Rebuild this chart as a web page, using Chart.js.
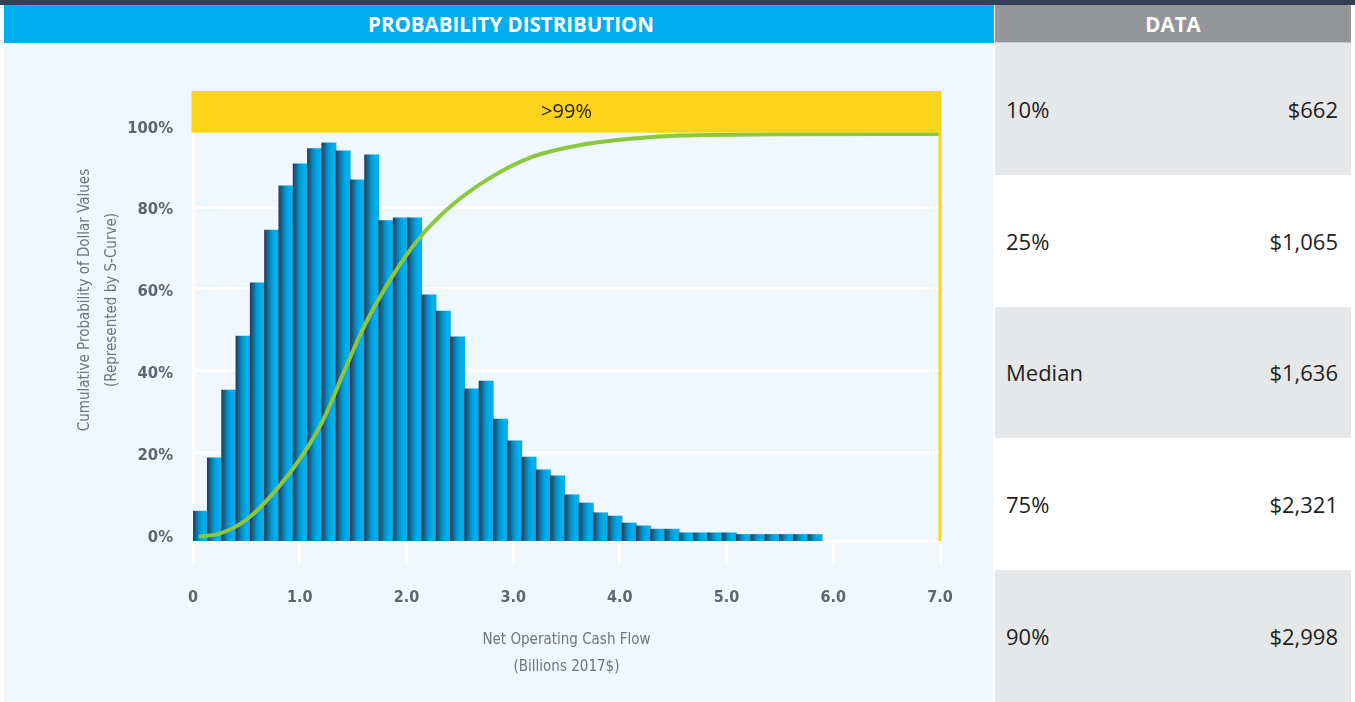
<!DOCTYPE html>
<html>
<head>
<meta charset="utf-8">
<script src="https://cdn.jsdelivr.net/npm/chart.js@4.4.0/dist/chart.umd.min.js"></script>
<style>
  body { margin: 0; width: 1355px; height: 702px; background: #fff; position: relative; overflow: hidden; font-family: 'Open Sans', sans-serif; }
  #topbar { position: absolute; left: 0; top: 0; width: 1355px; height: 5px; background: #323f55; }
  #leftHead { position: absolute; left: 4px; top: 5px; width: 990px; height: 38px; background: #00adef; color: #fff;
    font-weight: bold; font-size: 20.5px; line-height: 38px; text-align: center; padding-left: 24px; box-sizing: border-box; }
  #rightHead { position: absolute; left: 995px; top: 5px; width: 356px; height: 38px; background: #939598; color: #fff;
    font-weight: bold; font-size: 20.5px; line-height: 38px; text-align: center; border-bottom: 1px solid #c8c9cb; box-sizing: border-box; }
  #panel { position: absolute; left: 4px; top: 43px; width: 990px; height: 659px; background: #eff8fe; }
  #ytitle { position: absolute; left: 98px; top: 300px; width: 400px; margin-left: -200px; margin-top: -27px;
    transform: rotate(-90deg); text-align: center; font-family: 'DejaVu Sans Condensed', sans-serif; font-size: 15px;
    line-height: 27px; color: #6b7584; white-space: nowrap; }
  #table { position: absolute; left: 995px; top: 43px; width: 356px; height: 659px; }
  .row { height: 131.8px; display: flex; align-items: center; justify-content: space-between; padding: 0 13px 0 11px;
    box-sizing: border-box; font-size: 22px; color: #231f20; }
  .row:nth-child(odd) { background: #e6e7e8; }
  .row:nth-child(even) { background: #fff; }
</style>
</head>
<body>
<div id="topbar"></div>
<div id="leftHead">PROBABILITY DISTRIBUTION</div>
<div id="rightHead">DATA</div>
<div id="panel"><canvas id="chart" width="990" height="659"></canvas></div>
<div id="ytitle">Cumulative Probability of Dollar Values<br>(Represented by S-Curve)</div>
<div id="table"></div>
<script>
'use strict';

// histogram bins (width in billions) and bar heights
const binWidth = 0.134;
const barHeights = [5.7, 18.7, 35.3, 48.5, 61.5, 74.4, 85.2, 90.6, 94.3, 95.7,
  93.8, 86.7, 92.8, 76.7, 77.4, 77.4, 58.6, 54.6, 48.3, 35.6,
  37.5, 28.2, 22.9, 18.9, 15.8, 14.3, 9.7, 7.7, 5.3, 4.5,
  2.8, 2.1, 1.3, 1.3, 0.4, 0.4, 0.4, 0.4, 0, 0,
  0, 0, 0, 0];

// s-curve (cumulative probability)
const curveX = [0.07, 0.25, 0.5, 0.78, 1.03, 1.22, 1.41, 1.6, 1.875, 2.12, 2.41, 2.78, 3.19, 3.63, 4.1, 4.56, 5.5, 7.0];
const curveY = [-0.5, 0.2, 3.6, 10.9, 19.5, 28.0, 39.5, 50.7, 63.4, 72.4, 80.1, 87.1, 92.4, 95.2, 96.7, 97.5, 97.8, 97.9];

const xTickLabels = ['0', '1.0', '2.0', '3.0', '4.0', '5.0', '6.0', '7.0'];
const yTickValues = [0, 20, 40, 60, 80, 100];
const yTickLabels = ['0%', '20%', '40%', '60%', '80%', '100%'];
const bandLabel = '>99%';
const bandFrom = 98.2;

const tableLabels = ['10%', '25%', 'Median', '75%', '90%'];
const tableValues = ['$662', '$1,065', '$1,636', '$2,321', '$2,998'];

// data table on the right
let tableSpot = document.getElementById('table');
for (let i = 0; i < tableLabels.length; i++) {
  let row = document.createElement('div');
  row.className = 'row';
  row.innerHTML = '<span>' + tableLabels[i] + '</span><span>' + tableValues[i] + '</span>';
  tableSpot.appendChild(row);
}

const narrow = "'DejaVu Sans Condensed', sans-serif";

function barFill(c) {
  const chart = c.chart;
  if (!chart.chartArea || c.type !== 'data') return '#00aeef';
  const xs = chart.scales.x;
  const left = xs.getPixelForValue(c.dataIndex * binWidth);
  const right = xs.getPixelForValue((c.dataIndex + 1) * binWidth);
  const g = chart.ctx.createLinearGradient(left, 0, right, 0);
  g.addColorStop(0, '#2a3a52');
  g.addColorStop(0.12, '#1e5577');
  g.addColorStop(0.45, '#0097d2');
  g.addColorStop(0.7, '#00acec');
  g.addColorStop(1, '#00b0f0');
  return g;
}

// yellow ">99%" band plus the line at the right end
const bandPlugin = {
  id: 'band',
  afterDatasetsDraw(chart) {
    const { ctx, chartArea, scales: { x, y } } = chart;
    const x0 = x.getPixelForValue(x.min);
    const x1 = x.getPixelForValue(x.max);
    const yb = y.getPixelForValue(bandFrom);
    ctx.save();
    ctx.fillStyle = '#fcd41c';
    ctx.fillRect(x0 - 1.5, chartArea.top, x1 - x0 + 3, yb - chartArea.top);
    ctx.strokeStyle = '#fcd41c';
    ctx.lineWidth = 3;
    ctx.beginPath();
    ctx.moveTo(x1, yb);
    ctx.lineTo(x1, chartArea.bottom);
    ctx.stroke();
    ctx.fillStyle = '#231f20';
    ctx.font = "20px 'Open Sans', sans-serif";
    ctx.textAlign = 'center';
    ctx.textBaseline = 'middle';
    ctx.fillText(bandLabel, (x0 + x1) / 2, (chartArea.top + yb) / 2);
    ctx.restore();
  }
};

new Chart(document.getElementById('chart'), {
  type: 'bar',
  data: {
    datasets: [
      {
        type: 'line',
        data: curveX.map((v, i) => ({ x: v, y: curveY[i] })),
        borderColor: '#8dc63f',
        borderWidth: 4,
        borderCapStyle: 'round',
        pointRadius: 0,
        cubicInterpolationMode: 'monotone',
        order: 0
      },
      {
        data: barHeights.map((h, i) => ({ x: (i + 0.5) * binWidth, y: h })),
        backgroundColor: barFill,
        borderWidth: 0,
        barPercentage: 1,
        categoryPercentage: 1,
        base: -1.6,
        order: 1
      }
    ]
  },
  options: {
    responsive: false,
    animation: false,
    devicePixelRatio: 1,
    layout: { padding: { left: 30, right: 54, top: 48, bottom: 21 } },
    plugins: { legend: { display: false }, tooltip: { enabled: false } },
    scales: {
      x: {
        type: 'linear',
        min: 0,
        max: 7,
        offset: false,
        afterBuildTicks: s => { s.ticks = xTickLabels.map((_, i) => ({ value: i })); },
        afterFit: s => { s.height = 140; },
        grid: { offset: false, drawOnChartArea: false, drawTicks: true, tickLength: 24, tickColor: '#fff', tickWidth: 3 },
        border: { display: true, color: '#fff', width: 3 },
        ticks: {
          autoSkip: false, maxRotation: 0, padding: 23, color: '#5b6573',
          font: { family: narrow, size: 16, weight: 'bold' },
          callback: (v, i) => xTickLabels[i]
        },
        title: {
          display: true,
          text: ['Net Operating Cash Flow', '(Billions 2017$)'],
          color: '#6b7584',
          padding: { top: 0, bottom: 0 },
          font: { family: narrow, size: 15, lineHeight: 1.8 }
        }
      },
      y: {
        min: -1.6,
        max: 108.4,
        afterBuildTicks: s => { s.ticks = yTickValues.map(v => ({ value: v })); },
        afterFit: s => { s.width = 159; },
        grid: {
          drawTicks: false,
          lineWidth: 3,
          color: c => (c.tick && c.tick.value > 0 && c.tick.value < 100) ? '#fff' : 'rgba(0,0,0,0)'
        },
        border: { display: true, color: '#fff', width: 3 },
        ticks: {
          padding: 20, color: '#5b6573', labelOffset: 3,
          font: { family: narrow, size: 16.5, weight: 'bold' },
          callback: (v, i) => yTickLabels[i]
        }
      }
    }
  },
  plugins: [bandPlugin]
});
</script>
</body>
</html>
